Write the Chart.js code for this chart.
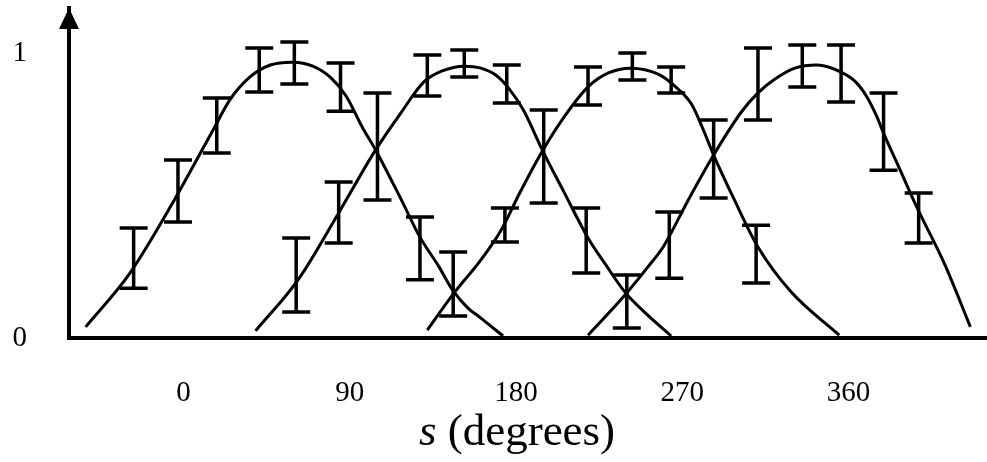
<!DOCTYPE html>
<html lang="en">
<head>
  <meta charset="UTF-8">
  <title>Response curves vs s</title>
  <script src="https://cdn.jsdelivr.net/npm/chart.js@4.4.1/dist/chart.umd.min.js"></script>
  <style>
    * {
      margin: 0;
      padding: 0;
      box-sizing: border-box;
    }
    body {
      background: #ffffff;
      width: 987px;
      height: 462px;
      overflow: hidden;
    }
    .wrap {
      position: relative;
      width: 987px;
      height: 462px;
    }
  </style>
</head>
<body>
  <div class="wrap"><canvas id="tuning"></canvas></div>

  <script>
    const xTicks = [0, 90, 180, 270, 360];
    const yTicks = [0, 1];

    // the four smooth curves (s in degrees, response)
    const curveA_s = [-53, -29, -5, 16, 25, 36, 47, 59, 70, 80, 88, 97, 104, 118, 128, 138, 146, 154, 161, 173];
    const curveA_r = [0.039, 0.228, 0.484, 0.73, 0.835, 0.916, 0.958, 0.968, 0.954, 0.912, 0.849, 0.737, 0.66, 0.484, 0.354, 0.253, 0.165, 0.105, 0.07, 0.007];

    const curveB_s = [39, 62, 84, 104, 118, 130, 140, 152, 161, 169, 176, 184, 194, 206, 219, 229, 239, 250, 264];
    const curveB_r = [0.025, 0.204, 0.439, 0.66, 0.793, 0.898, 0.937, 0.954, 0.947, 0.923, 0.877, 0.80, 0.663, 0.512, 0.351, 0.253, 0.161, 0.088, 0.007];

    const curveC_s = [132, 146, 161, 172, 182, 194, 206, 219, 230, 242, 257, 266, 275, 281, 287, 298, 311, 329, 355];
    const curveC_r = [0.028, 0.154, 0.274, 0.379, 0.509, 0.653, 0.775, 0.881, 0.93, 0.947, 0.926, 0.884, 0.821, 0.737, 0.642, 0.488, 0.319, 0.161, 0.01];

    const curveD_s = [219, 239, 251, 260, 273, 287, 302, 311, 321, 331, 343, 356, 364, 370, 375, 379, 388, 397, 412, 426];
    const curveD_r = [0.01, 0.151, 0.246, 0.323, 0.481, 0.642, 0.793, 0.86, 0.912, 0.947, 0.958, 0.933, 0.898, 0.846, 0.782, 0.719, 0.589, 0.459, 0.26, 0.039];

    // measured points: position and the ends of each error bar
    const barsA_s = [-27, -3, 18, 41, 60, 85, 105, 128, 146];
    const barsA_lo = [0.175, 0.407, 0.649, 0.863, 0.891, 0.796, 0.484, 0.204, 0.077];
    const barsA_hi = [0.386, 0.625, 0.842, 1.018, 1.039, 0.965, 0.86, 0.425, 0.302];

    const barsB_s = [61, 84, 132, 152, 175, 195, 218, 240];
    const barsB_lo = [0.091, 0.333, 0.849, 0.916, 0.825, 0.474, 0.228, 0.035];
    const barsB_hi = [0.351, 0.547, 0.993, 1.011, 0.958, 0.80, 0.456, 0.221];

    const barsC_s = [174, 219, 243, 264, 287, 310];
    const barsC_lo = [0.337, 0.818, 0.905, 0.86, 0.491, 0.193];
    const barsC_hi = [0.456, 0.951, 1.0, 0.951, 0.765, 0.396];

    const barsD_s = [263, 311, 335, 356, 379, 398];
    const barsD_lo = [0.21, 0.765, 0.881, 0.828, 0.589, 0.333];
    const barsD_hi = [0.442, 1.018, 1.028, 1.028, 0.86, 0.509];

    const serif = '"Liberation Serif", "Times New Roman", serif';

    function toPoints(xs, ys) {
      return xs.map((s, i) => ({ x: s, y: ys[i] }));
    }

    function curve(xs, ys) {
      return {
        data: toPoints(xs, ys),
        borderColor: '#000000',
        borderWidth: 3,
        pointRadius: 0,
        fill: false,
        cubicInterpolationMode: 'monotone'
      };
    }

    const barGroups = [
      { s: barsA_s, lo: barsA_lo, hi: barsA_hi },
      { s: barsB_s, lo: barsB_lo, hi: barsB_hi },
      { s: barsC_s, lo: barsC_lo, hi: barsC_hi },
      { s: barsD_s, lo: barsD_lo, hi: barsD_hi }
    ];

    // error bars, arrow head on the y axis and the axis title
    const extras = {
      id: 'extras',
      afterDatasetsDraw(chart) {
        const { ctx, scales: { x, y } } = chart;
        ctx.save();
        ctx.strokeStyle = '#000000';
        ctx.lineWidth = 3.5;
        barGroups.forEach(g => {
          g.s.forEach((s, i) => {
            const px = x.getPixelForValue(s);
            const top = y.getPixelForValue(g.hi[i]);
            const bot = y.getPixelForValue(g.lo[i]);
            ctx.beginPath();
            ctx.moveTo(px, top);
            ctx.lineTo(px, bot);
            ctx.moveTo(px - 14, top);
            ctx.lineTo(px + 14, top);
            ctx.moveTo(px - 14, bot);
            ctx.lineTo(px + 14, bot);
            ctx.stroke();
          });
        });
        ctx.restore();
      },
      afterDraw(chart) {
        const { ctx, chartArea } = chart;
        ctx.save();
        ctx.fillStyle = '#000000';
        const ax = chartArea.left;
        ctx.beginPath();
        ctx.moveTo(ax, chartArea.top);
        ctx.lineTo(ax - 10, chartArea.top + 21);
        ctx.lineTo(ax + 10, chartArea.top + 21);
        ctx.closePath();
        ctx.fill();

        // "s (degrees)" with an italic s
        const italic = 'italic 45px ' + serif;
        const plain = '45px ' + serif;
        ctx.font = italic;
        const w1 = ctx.measureText('s').width;
        ctx.font = plain;
        const w2 = ctx.measureText(' (degrees)').width;
        const x0 = 517 - (w1 + w2) / 2;
        ctx.textBaseline = 'alphabetic';
        ctx.textAlign = 'left';
        ctx.font = italic;
        ctx.fillText('s', x0, 445);
        ctx.font = plain;
        ctx.fillText(' (degrees)', x0 + w1, 445);
        ctx.restore();
      }
    };

    const ctx = document.getElementById('tuning').getContext('2d');
    new Chart(ctx, {
      type: 'line',
      data: {
        datasets: [
          curve(curveA_s, curveA_r),
          curve(curveB_s, curveB_r),
          curve(curveC_s, curveC_r),
          curve(curveD_s, curveD_r)
        ]
      },
      options: {
        responsive: true,
        maintainAspectRatio: false,
        animation: false,
        layout: { padding: { top: 8, right: 0, left: 0, bottom: 0 } },
        plugins: {
          legend: { display: false },
          tooltip: { enabled: false }
        },
        scales: {
          x: {
            type: 'linear',
            min: -62,
            max: 435,
            grid: { display: false, drawTicks: false },
            border: { display: true, color: '#000000', width: 4 },
            afterBuildTicks: scale => {
              scale.ticks = xTicks.map(v => ({ value: v }));
            },
            afterFit: scale => { scale.height = 124; },
            ticks: {
              color: '#000000',
              padding: 38,
              font: { family: serif, size: 29 },
              callback: v => String(v)
            }
          },
          y: {
            type: 'linear',
            min: 0,
            max: 1.158,
            grid: { display: false, drawTicks: false },
            border: { display: true, color: '#000000', width: 4 },
            afterBuildTicks: scale => {
              scale.ticks = yTicks.map(v => ({ value: v }));
            },
            afterFit: scale => {
              scale.width = 69;
              scale.paddingTop = 0;
              scale.paddingBottom = 0;
            },
            ticks: {
              color: '#000000',
              padding: 42,
              font: { family: serif, size: 29 },
              callback: v => String(v)
            }
          }
        }
      },
      plugins: [extras]
    });
  </script>
</body>
</html>
